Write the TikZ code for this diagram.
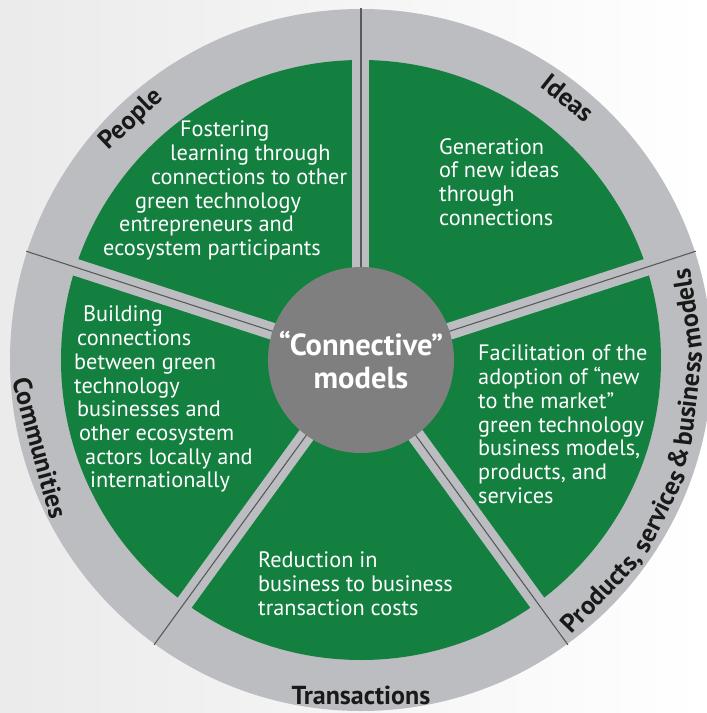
\documentclass[tikz,border=0pt]{standalone}
\usepackage{fontspec}
\setmainfont{PT Sans}

\definecolor{sectorgreen}{HTML}{148040}
\definecolor{ringgray}{HTML}{BCBDC0}
\definecolor{hubgray}{HTML}{7F7F7F}
\definecolor{seamgray}{HTML}{5A5A5C}

\tikzset{
  bodytext/.style={text=white, align=left, anchor=north west, inner sep=0pt,
    font=\fontsize{22.3}{23.7}\selectfont},
  ringlabel/.style={inner sep=0pt, text=black!90,
    font=\fontsize{26}{26}\selectfont\bfseries},
}

\begin{document}
\begin{tikzpicture}[x=1pt,y=1pt]

    % Background
    \useasboundingbox (-361,-353) rectangle (346,360);
    \clip (-361,-353) rectangle (346,360);
    \fill[left color=black!8, right color=white] (-361,-353) rectangle (346,360);

    % Ring and sectors
    \fill[ringgray] (0,0) circle (351);
    \fill[sectorgreen] (0,0) circle (300);
    \foreach \a in {90,18,-54,-126,162} {
        \draw[ringgray, line width=17pt] (0,0) -- (\a:301);
        \draw[seamgray, line width=1.1pt] (0,0) -- (\a:352);
    }

    % Hub
    \node[circle, fill=hubgray, minimum size=186pt, inner sep=0pt, text=white,
        align=center, font=\fontsize{30.5}{33}\selectfont\bfseries] (hub) at (0,0)
        {“Connective”\\models};

    % Sector texts
    \node[bodytext] (people) at (-258,239) {%
        \hspace*{77pt}Fostering\\
        \hspace*{67pt}learning through\\
        \hspace*{48pt}connections to other\\
        \hspace*{32pt}green technology\\
        \hspace*{16pt}entrepreneurs and\\
        ecosystem participants};
    \node[bodytext] (ideas) at (78,222) {%
        Generation\\ of new ideas\\ through\\ connections};
    \node[bodytext] (products) at (117,15) {%
        Facilitation of the\\ adoption of “new\\ to the market”\\
        green technology\\ business models,\\ products, and\\ services};
    \node[bodytext] (transactions) at (-103,-192) {%
        Reduction in\\ business to business\\ transaction costs};
    \node[bodytext] (communities) at (-287,54) {%
        \hspace*{9pt}Building\\
        \hspace*{3pt}connections\\
        between green\\
        technology\\
        \hspace*{3pt}businesses and\\
        \hspace*{5pt}other ecosystem\\
        \hspace*{11pt}actors locally and\\
        \hspace*{16pt}internationally};

    % Ring labels
    \node[ringlabel, rotate=43.7] (peoplelabel) at (133.7:332) {People};
    \node[ringlabel, rotate=-38.3] (ideaslabel) at (51.7:334) {Ideas};
    \node[ringlabel, rotate=-74.7] (communitieslabel) at (195.3:333) {Communities};
    \node[ringlabel] (transactionslabel) at (-90:335) {Transactions};
    \node[ringlabel, rotate=46.1] (productslabel) at (-43.9:335) {Products,};
    \node[ringlabel, rotate=63.1] (serviceslabel) at (-26.9:334) {services};
    \node[ringlabel, rotate=72.9] (andlabel) at (-17.1:332) {\&};
    \node[ringlabel, rotate=83.3] (businesslabel) at (-6.7:329) {business};
    \node[ringlabel, rotate=98.9] (modelslabel) at (8.9:330) {models};
\end{tikzpicture}
\end{document}
